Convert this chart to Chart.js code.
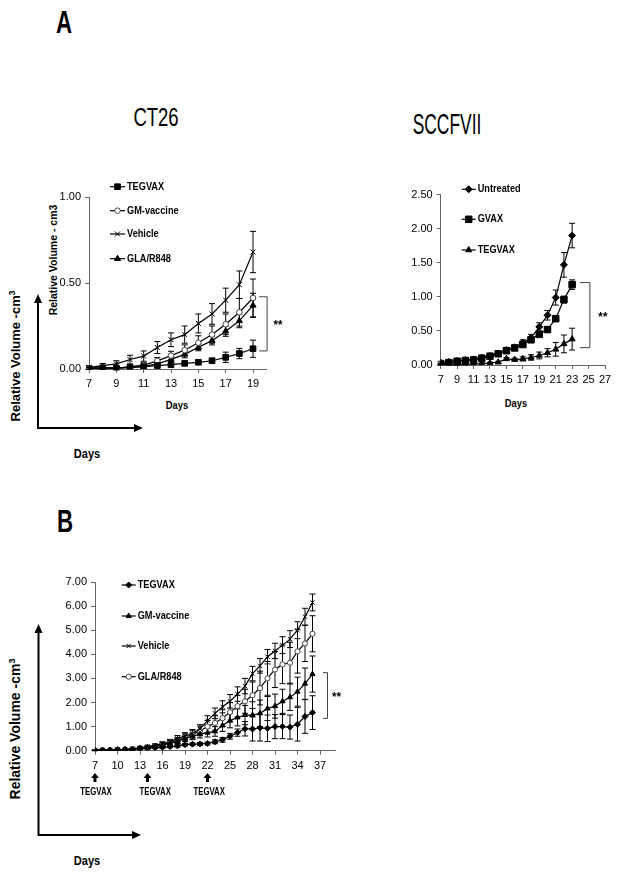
<!DOCTYPE html>
<html>
<head>
<meta charset="utf-8">
<script src="https://cdn.jsdelivr.net/npm/chart.js@4.4.1/dist/chart.umd.min.js"></script>
<style>
  body { margin: 0; background: #fff; }
  #page { position: relative; width: 624px; height: 878px; overflow: hidden; color: #000;
          font-family: "Liberation Sans Narrow", "Liberation Sans", Arial, sans-serif; }
  canvas { position: absolute; }
  .lbl { position: absolute; white-space: nowrap; line-height: 1; transform: translate(-50%, -50%); }
  .rot { transform: translate(-50%, -50%) rotate(-90deg); font-family: "Liberation Sans", Arial, sans-serif; font-weight: bold; }
  .panel { font-weight: bold; font-size: 31px; transform: translate(-50%, -50%) scaleX(0.72); }
  .days { font-weight: bold; transform: translate(-50%, -50%) scaleX(0.85); }
  sup { font-size: 0.65em; vertical-align: 0.55em; line-height: 0; }
  svg { position: absolute; left: 0; top: 0; }
</style>
</head>
<body>
<div id="page">
  <div class="lbl panel" style="left:64px; top:22px;">A</div>
  <div class="lbl" style="left:155.5px; top:117px; font-size:25px; transform: translate(-50%, -50%) scaleX(0.74);">CT26</div>
  <div class="lbl" style="left:446.5px; top:124px; font-size:29px; transform: translate(-50%, -50%) scaleX(0.6);">SCCFVII</div>
  <div class="lbl panel" style="left:65px; top:521px;">B</div>

  <div class="lbl rot" style="left:15px; top:356px; font-size:13px;">Relative Volume -cm<sup>3</sup></div>
  <div class="lbl rot" style="left:53px; top:260px; font-size:10.5px;">Relative Volume - cm3</div>
  <div class="lbl days" style="left:87px; top:453px; font-size:13px;">Days</div>
  <div class="lbl days" style="left:177px; top:405px; font-size:11px;">Days</div>
  <div class="lbl days" style="left:516px; top:403px; font-size:11px;">Days</div>
  <div class="lbl rot" style="left:15px; top:729px; font-size:14px;">Relative Volume -cm<sup>3</sup></div>
  <div class="lbl days" style="left:87px; top:860px; font-size:13px;">Days</div>

  <svg width="624" height="878">
    <g stroke="#000" stroke-width="2" fill="none">
      <polyline points="38,301 38,428 136,428" />
      <polyline points="38.5,631 38.5,835 134,835" />
    </g>
    <g fill="#000">
      <polygon points="38,294 34,303 42,303" />
      <polygon points="143,428 134,424 134,432" />
      <polygon points="38.5,624 34.5,633 42.5,633" />
      <polygon points="141,835 132,831 132,839" />
    </g>
  </svg>

  <canvas id="ct26Chart" width="260" height="215" style="left:30px; top:180px;"></canvas>
  <canvas id="sccChart" width="240" height="215" style="left:380px; top:180px;"></canvas>
  <canvas id="bChart" width="330" height="230" style="left:30px; top:570px;"></canvas>
</div>

<script>
// CT26 (panel A, left)
const ct26Days = [7, 8, 9, 10, 11, 12, 13, 14, 15, 16, 17, 18, 19];
const ct26XTicks = [7, 9, 11, 13, 15, 17, 19];
const ct26YTicks = [0, 0.5, 1];
const ct26Tegvax = [0.003, 0.006, 0.006, 0.010, 0.014, 0.020, 0.025, 0.033, 0.039, 0.048, 0.068, 0.090, 0.118];
const ct26TegvaxErr = [0.005, 0.005, 0.006, 0.006, 0.007, 0.008, 0.008, 0.009, 0.010, 0.015, 0.030, 0.030, 0.050];
const ct26Gm = [0.005, 0.008, 0.004, 0.014, 0.023, 0.047, 0.078, 0.110, 0.153, 0.200, 0.260, 0.330, 0.413];
const ct26GmErr = [0.008, 0.010, 0.010, 0.012, 0.015, 0.020, 0.025, 0.030, 0.040, 0.050, 0.060, 0.080, 0.110];
const ct26Vehicle = [0.010, 0.020, 0.030, 0.055, 0.075, 0.125, 0.170, 0.200, 0.265, 0.320, 0.400, 0.490, 0.680];
const ct26VehicleErr = [0.010, 0.012, 0.018, 0.025, 0.030, 0.035, 0.040, 0.050, 0.055, 0.060, 0.070, 0.080, 0.120];
const ct26Gla = [0.003, 0.005, 0.005, 0.008, 0.015, 0.030, 0.056, 0.085, 0.126, 0.165, 0.220, 0.280, 0.370];
const ct26GlaErr = [0.005, 0.006, 0.006, 0.008, 0.010, 0.012, 0.015, 0.020, 0.020, 0.025, 0.030, 0.040, 0.070];

// SCCFVII (panel A, right)
const sccDays = [7, 8, 9, 10, 11, 12, 13, 14, 15, 16, 17, 18, 19, 20, 21, 22, 23];
const sccXTicks = [7, 9, 11, 13, 15, 17, 19, 21, 23, 25, 27];
const sccYTicks = [0, 0.5, 1, 1.5, 2, 2.5];
const sccUntreated = [0.035, 0.045, 0.06, 0.073, 0.083, 0.11, 0.13, 0.17, 0.22, 0.26, 0.33, 0.40, 0.56, 0.73, 0.99, 1.47, 1.90];
const sccUntreatedErr = [0.02, 0.02, 0.02, 0.02, 0.02, 0.02, 0.02, 0.03, 0.03, 0.03, 0.04, 0.05, 0.06, 0.07, 0.11, 0.18, 0.18];
const sccGvax = [0.02, 0.035, 0.055, 0.065, 0.075, 0.10, 0.13, 0.165, 0.21, 0.25, 0.30, 0.37, 0.45, 0.52, 0.68, 0.96, 1.18];
const sccGvaxErr = [0.01, 0.01, 0.015, 0.015, 0.015, 0.02, 0.02, 0.02, 0.02, 0.02, 0.03, 0.03, 0.03, 0.03, 0.02, 0.05, 0.07];
const sccTegvax = [0.01, 0.005, 0.005, 0.01, 0.015, 0.02, 0.03, 0.04, 0.09, 0.08, 0.09, 0.11, 0.14, 0.18, 0.23, 0.31, 0.38];
const sccTegvaxErr = [0.01, 0.01, 0.01, 0.01, 0.01, 0.01, 0.01, 0.015, 0.02, 0.02, 0.03, 0.04, 0.05, 0.06, 0.10, 0.13, 0.16];

// panel B
const bDays = [7, 8, 9, 10, 11, 12, 13, 14, 15, 16, 17, 18, 19, 20, 21, 22, 23, 24, 25, 26, 27, 28, 29, 30, 31, 32, 33, 34, 35, 36];
const bXTicks = [7, 10, 13, 16, 19, 22, 25, 28, 31, 34, 37];
const bYTicks = [0, 1, 2, 3, 4, 5, 6, 7];
const bTegvax = [0.02, 0.02, 0.02, 0.04, 0.04, 0.05, 0.08, 0.10, 0.12, 0.14, 0.17, 0.20, 0.25, 0.27, 0.28, 0.30, 0.37, 0.45, 0.60, 0.75, 0.91, 0.90, 0.95, 0.93, 1.00, 1.00, 0.98, 1.10, 1.42, 1.58];
const bTegvaxErr = [0.01, 0.01, 0.01, 0.01, 0.01, 0.02, 0.02, 0.03, 0.03, 0.04, 0.04, 0.05, 0.05, 0.05, 0.06, 0.06, 0.08, 0.10, 0.12, 0.15, 0.30, 0.50, 0.55, 0.55, 0.50, 0.50, 0.50, 0.70, 0.70, 0.70];
const bGm = [0.01, 0.02, 0.02, 0.04, 0.05, 0.06, 0.10, 0.13, 0.18, 0.24, 0.30, 0.40, 0.50, 0.60, 0.69, 0.75, 0.80, 1.05, 1.25, 1.38, 1.48, 1.48, 1.55, 1.75, 1.85, 2.05, 2.22, 2.45, 2.78, 3.18];
const bGmErr = [0.01, 0.01, 0.01, 0.02, 0.02, 0.02, 0.03, 0.04, 0.05, 0.06, 0.08, 0.10, 0.12, 0.14, 0.16, 0.18, 0.20, 0.25, 0.30, 0.35, 0.40, 0.55, 0.55, 0.50, 0.50, 0.50, 0.55, 0.60, 0.65, 0.75];
const bVehicle = [0.02, 0.02, 0.03, 0.05, 0.06, 0.08, 0.12, 0.17, 0.22, 0.29, 0.37, 0.51, 0.61, 0.72, 0.90, 1.25, 1.55, 1.82, 2.05, 2.35, 2.68, 3.20, 3.52, 3.90, 4.14, 4.38, 4.63, 5.00, 5.56, 6.15];
const bVehicleErr = [0.01, 0.01, 0.01, 0.02, 0.02, 0.03, 0.04, 0.05, 0.06, 0.08, 0.10, 0.12, 0.14, 0.16, 0.18, 0.20, 0.22, 0.25, 0.28, 0.30, 0.32, 0.30, 0.30, 0.30, 0.32, 0.35, 0.35, 0.35, 0.35, 0.35];
const bGla = [0.01, 0.02, 0.02, 0.04, 0.05, 0.07, 0.10, 0.14, 0.19, 0.25, 0.33, 0.43, 0.55, 0.67, 0.82, 1.00, 1.15, 1.35, 1.60, 1.85, 2.05, 2.30, 2.60, 3.00, 3.37, 3.58, 3.65, 4.12, 4.45, 4.85];
const bGlaErr = [0.01, 0.01, 0.01, 0.02, 0.02, 0.03, 0.04, 0.05, 0.06, 0.08, 0.10, 0.12, 0.15, 0.18, 0.20, 0.25, 0.30, 0.35, 0.40, 0.45, 0.50, 0.55, 0.70, 0.70, 0.75, 0.80, 0.85, 0.90, 0.75, 0.75];
const doseDays = [7, 14, 22];

const NARROW = "'Liberation Sans Narrow', 'Liberation Sans', Arial, sans-serif";

const markers = {
  square: { pointStyle: "rect", pointRadius: 4, pointBackgroundColor: "#000", pointBorderColor: "#000" },
  openCircle: { pointStyle: "circle", pointRadius: 2.8, pointBackgroundColor: "#fff", pointBorderColor: "#444" },
  cross: { pointStyle: "crossRot", pointRadius: 3.5, pointBackgroundColor: "#000", pointBorderColor: "#000" },
  triangle: { pointStyle: "triangle", pointRadius: 3.5, pointBackgroundColor: "#000", pointBorderColor: "#000" },
  diamond: { pointStyle: "rectRot", pointRadius: 3.5, pointBackgroundColor: "#000", pointBorderColor: "#000" }
};

function series(label, data, errors, marker, radius) {
  const m = markers[marker];
  return {
    label,
    data,
    errors,
    borderColor: "#000",
    borderWidth: 1.2,
    tension: 0,
    pointStyle: m.pointStyle,
    pointRadius: radius || m.pointRadius,
    pointBackgroundColor: m.pointBackgroundColor,
    pointBorderColor: m.pointBorderColor,
    pointBorderWidth: 1
  };
}

// condensed-looking text (no narrow face installed)
function narrowText(ctx, text, x, y, size, squeeze, align) {
  ctx.save();
  ctx.translate(x, y);
  ctx.scale(squeeze, 1);
  ctx.font = "bold " + size + "px " + NARROW;
  ctx.textAlign = align || "left";
  ctx.textBaseline = "middle";
  ctx.fillText(text, 0, 0);
  ctx.restore();
}

// error bars, drawn from each dataset's "errors" array
const errorBarPlugin = {
  id: "errorBars",
  beforeDatasetsDraw(chart, args, opts) {
    const ctx = chart.ctx;
    const yScale = chart.scales.y;
    const cap = opts.cap || 3;
    ctx.save();
    ctx.strokeStyle = "#000";
    ctx.lineWidth = 1;
    chart.data.datasets.forEach((ds, i) => {
      if (!ds.errors) return;
      chart.getDatasetMeta(i).data.forEach((pt, j) => {
        const v = ds.data[j];
        const e = ds.errors[j];
        const top = yScale.getPixelForValue(v + e);
        const bottom = yScale.getPixelForValue(v - e);
        ctx.beginPath();
        ctx.moveTo(pt.x, top);
        ctx.lineTo(pt.x, bottom);
        ctx.moveTo(pt.x - cap, top);
        ctx.lineTo(pt.x + cap, top);
        ctx.moveTo(pt.x - cap, bottom);
        ctx.lineTo(pt.x + cap, bottom);
        ctx.stroke();
      });
    });
    ctx.restore();
  }
};

// stacked legend with line + marker
const sideLegendPlugin = {
  id: "sideLegend",
  afterDraw(chart, args, opts) {
    if (!opts.y) return;
    const ctx = chart.ctx;
    chart.data.datasets.forEach((ds, i) => {
      const y = opts.y[i];
      ctx.save();
      ctx.strokeStyle = "#000";
      ctx.lineWidth = 1.2;
      ctx.beginPath();
      ctx.moveTo(opts.x, y);
      ctx.lineTo(opts.x + opts.lineLen, y);
      ctx.stroke();
      ctx.fillStyle = ds.pointBackgroundColor;
      ctx.strokeStyle = ds.pointBorderColor;
      ctx.lineWidth = 1;
      Chart.helpers.drawPoint(ctx, { pointStyle: ds.pointStyle, radius: ds.pointRadius, borderWidth: 1, rotation: 0 },
        opts.x + opts.lineLen / 2, y);
      ctx.fillStyle = "#000";
      narrowText(ctx, ds.label, opts.x + opts.lineLen + 2, y, opts.fontSize, 0.8);
      ctx.restore();
    });
  }
};

// significance bracket
const bracketPlugin = {
  id: "sigBracket",
  afterDraw(chart, args, opts) {
    if (opts.x === undefined) return;
    const ctx = chart.ctx;
    const xs = chart.scales.x;
    const ys = chart.scales.y;
    const px = xs.getPixelForValue(opts.x);
    const p0 = xs.getPixelForValue(opts.from);
    const top = ys.getPixelForValue(opts.top);
    const bottom = ys.getPixelForValue(opts.bottom);
    ctx.save();
    ctx.strokeStyle = "#444";
    ctx.lineWidth = 1;
    ctx.beginPath();
    ctx.moveTo(p0, top);
    ctx.lineTo(px, top);
    ctx.lineTo(px, bottom);
    ctx.lineTo(p0, bottom);
    ctx.stroke();
    ctx.fillStyle = "#000";
    narrowText(ctx, "**", px + opts.gap, (top + bottom) / 2 + 2, 13, 0.9, "center");
    ctx.restore();
  }
};

// treatment arrows under the x axis (panel B)
const doseArrowPlugin = {
  id: "doseArrows",
  afterDraw(chart, args, opts) {
    if (!opts.days) return;
    const ctx = chart.ctx;
    const xs = chart.scales.x;
    ctx.save();
    ctx.fillStyle = "#000";
    opts.days.forEach((d, i) => {
      const x = xs.getPixelForValue(d);
      ctx.beginPath();
      ctx.moveTo(x, opts.top);
      ctx.lineTo(x - 4, opts.top + 5);
      ctx.lineTo(x + 4, opts.top + 5);
      ctx.closePath();
      ctx.fill();
      ctx.fillRect(x - 1.5, opts.top + 4, 3, 5);
      narrowText(ctx, opts.label, x + opts.textShift[i], opts.textY, 10, 0.78, "center");
    });
    ctx.restore();
  }
};

function makeChart(id, cfg) {
  return new Chart(document.getElementById(id), {
    type: "line",
    data: { labels: cfg.days, datasets: cfg.datasets },
    plugins: [errorBarPlugin, sideLegendPlugin, bracketPlugin, doseArrowPlugin],
    options: {
      responsive: false,
      animation: false,
      devicePixelRatio: 1,
      layout: { padding: cfg.padding },
      plugins: {
        legend: { display: false },
        tooltip: { enabled: false },
        errorBars: { cap: cfg.cap },
        sideLegend: cfg.legend,
        sigBracket: cfg.bracket,
        doseArrows: cfg.dose || {}
      },
      scales: {
        x: {
          type: "linear",
          min: cfg.xMin,
          max: cfg.xMax,
          afterBuildTicks(scale) { scale.ticks = cfg.xTicks.map((v) => ({ value: v })); },
          afterFit(scale) { scale.height = cfg.xHeight; },
          border: { display: true, color: "#666", width: 1 },
          grid: { display: true, drawOnChartArea: false, drawTicks: true, tickLength: 4, color: "#666" },
          ticks: {
            autoSkip: false,
            maxRotation: 0,
            padding: cfg.xPad,
            color: "#000",
            font: { family: NARROW, size: 11 },
            callback(v) { return String(v); }
          }
        },
        y: {
          min: 0,
          max: cfg.yMax,
          afterBuildTicks(scale) { scale.ticks = cfg.yTicks.map((v) => ({ value: v })); },
          afterFit(scale) { scale.width = cfg.yWidth; },
          border: { display: true, color: "#666", width: 1 },
          grid: { display: true, drawOnChartArea: false, drawTicks: true, tickLength: 4, color: "#666" },
          ticks: {
            padding: 4,
            color: "#000",
            font: { family: NARROW, size: 11 },
            callback(v) { return Number(v).toFixed(2); }
          }
        }
      }
    }
  });
}

makeChart("ct26Chart", {
  days: ct26Days,
  datasets: [
    series("TEGVAX", ct26Tegvax, ct26TegvaxErr, "square"),
    series("GM-vaccine", ct26Gm, ct26GmErr, "openCircle"),
    series("Vehicle", ct26Vehicle, ct26VehicleErr, "cross"),
    series("GLA/R848", ct26Gla, ct26GlaErr, "triangle")
  ],
  xMin: 7, xMax: 20, xTicks: ct26XTicks, yMax: 1, yTicks: ct26YTicks,
  yWidth: 59, xHeight: 26, xPad: 4, cap: 3,
  padding: { top: 17, right: 23.3, left: 0, bottom: 0 },
  legend: { x: 80, lineLen: 15, y: [6.7, 30.7, 54, 78.7], fontSize: 11.5 },
  bracket: { x: 20.03, from: 19.45, top: 0.42, bottom: 0.105, gap: 11 }
});

makeChart("sccChart", {
  days: sccDays,
  datasets: [
    series("Untreated", sccUntreated, sccUntreatedErr, "diamond"),
    series("GVAX", sccGvax, sccGvaxErr, "square", 4.6),
    series("TEGVAX", sccTegvax, sccTegvaxErr, "triangle")
  ],
  xMin: 7, xMax: 27, xTicks: sccXTicks, yMax: 2.5, yTicks: sccYTicks,
  yWidth: 60.7, xHeight: 30, xPad: 4, cap: 3,
  padding: { top: 14.7, right: 15, left: 0, bottom: 0 },
  legend: { x: 81.7, lineLen: 14, y: [9.3, 39.3, 70], fontSize: 11.5 },
  bracket: { x: 25.16, from: 23.95, top: 1.21, bottom: 0.254, gap: 13 }
});

makeChart("bChart", {
  days: bDays,
  datasets: [
    series("TEGVAX", bTegvax, bTegvaxErr, "diamond", 3),
    series("GM-vaccine", bGm, bGmErr, "triangle", 3),
    series("Vehicle", bVehicle, bVehicleErr, "cross", 3),
    series("GLA/R848", bGla, bGlaErr, "openCircle", 2.6)
  ],
  xMin: 7, xMax: 39, xTicks: bXTicks, yMax: 7, yTicks: bYTicks,
  yWidth: 65, xHeight: 49.3, xPad: 5, cap: 3,
  padding: { top: 12, right: 25, left: 0, bottom: 0 },
  legend: { x: 91.7, lineLen: 14, y: [15, 46, 76, 106.7], fontSize: 11.5 },
  bracket: { x: 38.0, from: 37.4, top: 3.24, bottom: 1.34, gap: 9 },
  dose: { days: doseDays, label: "TEGVAX", top: 203, textY: 222.7, textShift: [1, 7.7, 1.7] }
});
</script>
</body>
</html>
